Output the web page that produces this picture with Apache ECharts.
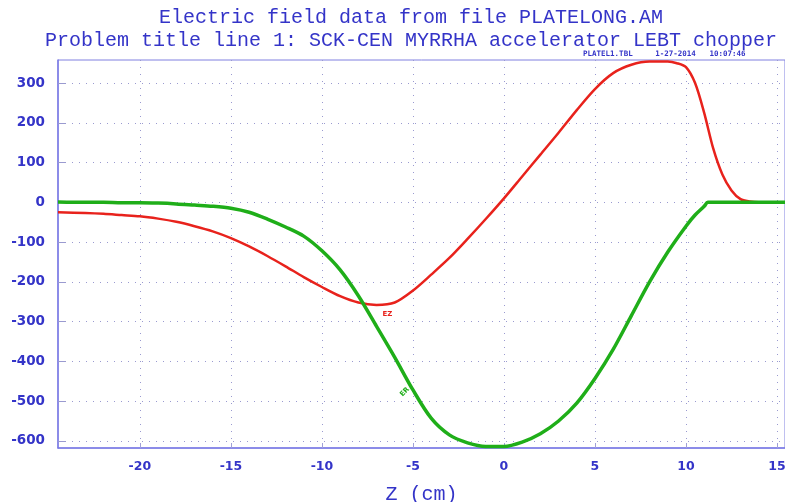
<!DOCTYPE html>
<html>
<head>
<meta charset="utf-8">
<script src="https://cdn.jsdelivr.net/npm/echarts@6/dist/echarts.min.js"></script>
<style>
  html, body { margin: 0; padding: 0; background: #fff; }
  #main { width: 785px; height: 502px; }
</style>
</head>
<body>
<div id="main"></div>
<script>
// valores
const zRed = [-24.5, -23, -22, -21, -20, -19, -18, -17, -16, -15, -14, -13, -12, -11, -10, -9, -8, -7, -6, -5, -4, -3, -2, -1, 0, 1, 2, 3, 4, 5, 6, 7, 8, 9, 9.5, 10, 10.5, 11, 11.5, 12, 12.5, 13, 13.5, 14, 15.5];
const ezRed = [-25, -27, -29, -32, -35, -41, -49, -60, -73, -90, -111, -135, -161, -188, -213, -236, -252, -258, -252, -222, -182, -140, -92, -42, 10, 65, 120, 175, 232, 285, 325, 346, 354, 354, 350, 340, 300, 225, 135, 70, 30, 8, 2, 0, 0];

const zGreen = [-24.5, -23, -22, -21, -20, -19, -18, -17, -16, -15, -14, -13, -12, -11, -10, -9, -8, -7, -6, -5, -4, -3, -2, -1, 0, 1, 2, 3, 4, 5, 6, 7, 8, 9, 10, 10.5, 11, 11.2, 11.5, 13, 15.5];
const erGreen = [1, 0, 0, -1, -1, -2, -4, -7, -10, -15, -25, -42, -62, -85, -122, -170, -235, -312, -390, -472, -543, -585, -605, -614, -614, -603, -582, -550, -505, -443, -370, -285, -200, -125, -60, -32, -10, 0, 0, 0, 0];

const xTicks = [-20, -15, -10, -5, 0, 5, 10, 15];
const yTicks = [-600, -500, -400, -300, -200, -100, 0, 100, 200, 300];

const azul = '#3434c8';
const mono = 'Liberation Mono';

function junta(xs, ys) {
  return xs.map((x, i) => [x, ys[i]]);
}

var chartDom = document.getElementById('main');
var myChart = echarts.init(chartDom);
var option;

option = {
  backgroundColor: '#fff',
  animation: false,
  title: {
    text: 'Electric field data from file PLATELONG.AM\nProblem title line 1: SCK-CEN MYRRHA accelerator LEBT chopper',
    left: 406,
    top: 1,
    textAlign: 'center',
    textStyle: {
      fontFamily: mono,
      fontSize: 20,
      fontWeight: 'normal',
      color: azul,
      lineHeight: 23
    }
  },
  graphic: [{
    type: 'text',
    left: 583,
    top: 50,
    style: {
      text: 'PLATEL1.TBL     1-27-2014   10:07:46',
      font: 'bold 7.5px "DejaVu Sans Mono"',
      fill: azul
    }
  }],
  grid: {
    left: 58, top: 60, right: 0, bottom: 54,
    outerBoundsMode: 'none',
    containLabel: false,
    show: true,
    borderColor: '#8080e0',
    borderWidth: 1
  },
  xAxis: {
    type: 'value',
    min: -24.5,
    max: 15.44,
    name: 'Z (cm)',
    nameLocation: 'middle',
    nameGap: 37,
    nameTextStyle: { fontFamily: mono, fontSize: 20, color: azul },
    axisLine: { onZero: false, lineStyle: { color: '#7b7be6', width: 1.5 } },
    axisTick: { customValues: xTicks, inside: true, length: 5, lineStyle: { color: '#a0a0d8' } },
    axisLabel: {
      customValues: xTicks,
      fontFamily: 'DejaVu Sans',
      fontWeight: 'bold',
      fontSize: 12.5,
      color: azul,
      margin: 12
    },
    splitLine: { show: true, lineStyle: { type: [1, 6], color: '#9a9ad0', width: 1 } }
  },
  yAxis: {
    type: 'value',
    min: -618,
    max: 358,
    axisLine: { show: true, onZero: false, lineStyle: { color: '#7b7be6', width: 1.5 } },
    axisTick: { customValues: yTicks, inside: true, length: 8, lineStyle: { color: '#9a9ad0' } },
    axisLabel: {
      customValues: yTicks,
      fontFamily: 'DejaVu Sans',
      fontWeight: 'bold',
      fontSize: 13.5,
      color: azul,
      margin: 13
    },
    splitLine: { show: true, lineStyle: { type: [1, 6], color: '#9a9ad0', width: 1 } }
  },
  series: [
    {
      name: 'EZ',
      type: 'line',
      data: junta(zRed, ezRed),
      smooth: 0.3,
      showSymbol: false,
      lineStyle: { color: '#e8221c', width: 2.5 },
      markPoint: {
        symbol: 'circle',
        symbolSize: 0,
        data: [{ coord: [-6.4, -282], value: 'EZ' }],
        label: { show: true, formatter: 'EZ', color: '#e8221c', fontSize: 7, fontWeight: 'bold', fontFamily: 'DejaVu Sans' }
      }
    },
    {
      name: 'ER',
      type: 'line',
      data: junta(zGreen, erGreen),
      smooth: 0.3,
      showSymbol: false,
      lineStyle: { color: '#1fae19', width: 3.5 },
      markPoint: {
        symbol: 'circle',
        symbolSize: 0,
        data: [{ coord: [-5.45, -477], value: 'ER' }],
        label: { show: true, formatter: 'ER', color: '#1fae19', fontSize: 7, fontWeight: 'bold', fontFamily: 'DejaVu Sans', rotate: 45 }
      }
    }
  ]
};
option && myChart.setOption(option);
</script>
</body>
</html>
